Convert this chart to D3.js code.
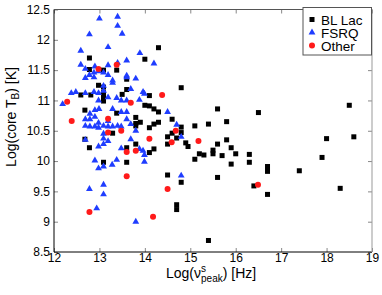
<!DOCTYPE html>
<html><head><meta charset="utf-8">
<script src="https://cdn.jsdelivr.net/npm/d3@7"></script>
<style>body{margin:0;background:#fff}svg{display:block}text{font-family:"Liberation Sans",Arial,sans-serif}</style>
</head><body>
<svg id="c" width="382" height="295"></svg>
<script>
const xTicks = [12,13,14,15,16,17,18,19];
const yTicks = [8.5,9,9.5,10,10.5,11,11.5,12,12.5];
const seriesNames = ["BL Lac","FSRQ","Other"];
const blLac = [[12.78,11.70],[12.78,11.51],[12.59,11.09],[12.81,11.09],[12.68,10.84],[12.68,10.36],[12.78,10.22],[12.98,11.25],[13.09,11.50],[13.09,11.22],[13.09,11.13],[13.09,11.06],[13.09,10.99],[13.09,9.98],[13.38,11.50],[13.38,10.79],[13.29,10.46],[13.6,11.35],[13.6,11.18],[13.5,11.10],[13.6,10.22],[13.6,9.98],[13.8,10.72],[13.8,10.62],[13.8,10.58],[13.8,10.28],[13.9,10.64],[14.0,11.68],[14.0,10.92],[14.1,11.08],[14.1,10.91],[14.1,10.55],[14.1,10.14],[14.2,10.86],[14.2,10.61],[14.2,10.20],[14.3,11.87],[14.3,10.81],[14.3,10.64],[14.5,10.40],[14.5,10.28],[14.5,9.77],[14.6,10.69],[14.6,10.46],[14.7,10.38],[14.7,9.28],[14.7,9.20],[14.8,11.21],[14.8,10.56],[14.8,10.47],[14.8,9.65],[14.9,10.30],[14.95,10.24],[15.1,10.58],[15.1,10.03],[15.2,10.12],[15.3,10.10],[15.4,10.61],[15.4,8.69],[15.5,10.18],[15.5,10.12],[15.6,10.86],[15.6,10.28],[15.6,9.73],[15.7,10.09],[15.8,10.65],[15.8,10.35],[15.9,10.22],[15.9,9.95],[16.0,10.12],[16.3,10.11],[16.3,9.98],[16.4,9.59],[16.5,10.80],[16.7,9.91],[16.7,9.83],[16.7,9.45],[17.4,9.84],[17.9,10.06],[18.0,10.37],[18.3,9.55],[18.5,10.92],[18.6,10.40]];
const fsrq = [[13.0,12.35],[13.4,12.38],[13.4,12.23],[13.5,12.10],[12.78,12.09],[13.19,11.88],[12.59,11.82],[13.89,11.78],[14.2,11.61],[13.6,11.66],[13.4,11.62],[12.59,11.59],[12.69,11.52],[12.9,11.56],[13.19,11.58],[12.98,11.48],[12.88,11.46],[12.78,11.42],[13.09,11.46],[13.19,11.42],[13.29,11.33],[13.29,11.29],[13.6,11.41],[13.6,11.38],[13.8,11.36],[12.69,11.37],[12.88,11.38],[12.38,11.12],[12.48,11.14],[12.19,10.94],[12.69,11.12],[12.88,11.14],[12.98,11.12],[13.09,11.16],[13.09,11.24],[13.19,11.05],[13.69,11.19],[13.38,11.04],[13.48,11.0],[13.6,11.0],[13.96,11.14],[13.99,11.11],[13.88,11.01],[12.98,11.0],[12.99,10.86],[12.9,10.84],[12.69,10.69],[12.69,10.58],[12.79,10.78],[12.79,10.69],[12.79,10.57],[12.9,10.73],[12.9,10.57],[12.98,10.63],[12.98,10.55],[13.09,10.58],[13.09,10.45],[13.09,10.37],[13.19,10.57],[13.19,10.66],[13.29,10.57],[13.29,10.86],[13.4,10.58],[13.48,10.81],[13.6,10.81],[13.48,10.57],[13.6,10.69],[13.69,10.61],[13.69,10.36],[13.8,10.50],[12.69,10.35],[12.98,10.24],[13.09,10.28],[13.19,10.33],[13.48,10.21],[13.88,10.20],[13.96,10.17],[13.99,10.10],[13.99,9.99],[13.38,10.02],[13.28,9.94],[13.09,9.91],[12.98,9.88],[12.9,10.01],[13.09,9.61],[13.09,9.45],[12.78,9.54],[12.94,9.22],[13.8,9.0],[14.5,10.81],[14.7,10.60],[14.8,10.40],[14.8,9.76]];
const other = [[12.29,10.98],[12.39,10.66],[12.98,11.52],[13.38,11.59],[13.69,10.96],[13.19,10.70],[13.19,10.47],[13.48,10.50],[13.6,10.15],[13.8,10.17],[13.6,9.75],[12.78,9.16],[14.18,9.08],[14.38,11.09],[14.1,10.37],[14.59,10.31],[14.68,10.50],[14.5,9.54],[15.18,10.33],[16.49,9.61]];

const svg = d3.select("#c");
const L=54, R=372, T=9.5, B=252;
const x = d3.scaleLinear().domain([12,19]).range([L,R]);
const y = d3.scaleLinear().domain([8.5,12.5]).range([B,T]);
const blue="#1f3dff", red="#ff1a1a";

// axes
const tl=4;
const gB = svg.append("g").attr("transform",`translate(0,${B})`)
  .call(d3.axisBottom(x).tickValues(xTicks).tickFormat(d3.format("d")).tickSizeInner(-tl).tickSizeOuter(0).tickPadding(1));
const gT = svg.append("g").attr("transform",`translate(0,${T})`)
  .call(d3.axisTop(x).tickValues(xTicks).tickFormat("").tickSizeInner(-tl).tickSizeOuter(0));
const gL = svg.append("g").attr("transform",`translate(${L},0)`)
  .call(d3.axisLeft(y).tickValues(yTicks).tickFormat(d=>String(d)).tickSizeInner(-tl).tickSizeOuter(0).tickPadding(4));
const gR = svg.append("g").attr("transform",`translate(${R},0)`)
  .call(d3.axisRight(y).tickValues(yTicks).tickFormat("").tickSizeInner(-tl).tickSizeOuter(0));
[gB,gT,gL,gR].forEach(g=>{
  g.select(".domain").remove();
  g.selectAll(".tick line").attr("stroke","#888");
  g.selectAll("text").attr("font-size",12).attr("fill","#000").attr("font-family","Liberation Sans, Arial, sans-serif");
});
svg.append("line").attr("x1",L).attr("x2",L).attr("y1",T).attr("y2",B).attr("stroke","#000");
svg.append("line").attr("x1",L).attr("x2",R).attr("y1",B).attr("y2",B).attr("stroke","#000");
svg.append("line").attr("x1",L).attr("x2",R).attr("y1",T).attr("y2",T).attr("stroke","#555");
svg.append("line").attr("x1",R).attr("x2",R).attr("y1",T).attr("y2",B).attr("stroke","#999");

// points
const sq=5;
svg.append("g").selectAll("rect").data(blLac).join("rect")
  .attr("x",d=>x(d[0])-sq/2).attr("y",d=>y(d[1])-sq/2).attr("width",sq).attr("height",sq).attr("fill","#000");
const tri = d3.symbol().type(d3.symbolTriangle).size(20);
svg.append("g").selectAll("path").data(fsrq).join("path")
  .attr("d",tri).attr("transform",d=>`translate(${x(d[0])},${y(d[1])})`).attr("fill",blue);
svg.append("g").selectAll("circle").data(other).join("circle")
  .attr("cx",d=>x(d[0])).attr("cy",d=>y(d[1])).attr("r",3).attr("fill",red);

// legend
const lg = svg.append("g");
lg.append("rect").attr("x",303).attr("y",7.5).attr("width",68.5).attr("height",47.5).attr("fill","#fff").attr("stroke","#555");
const rows=[19.5,32.5,45.5];
lg.append("rect").attr("x",312-sq/2).attr("y",rows[0]-sq/2).attr("width",sq).attr("height",sq).attr("fill","#000");
lg.append("path").attr("d",tri).attr("transform",`translate(312,${rows[1]})`).attr("fill",blue);
lg.append("circle").attr("cx",312).attr("cy",rows[2]).attr("r",3).attr("fill",red);
seriesNames.forEach((n,i)=>lg.append("text").attr("x",321).attr("y",rows[i]+5).attr("font-size",13.5).text(n));

// x label
const xl = svg.append("text").attr("x",166).attr("y",278).attr("font-size",14);
xl.append("tspan").text("Log(\u03bd");
const xs = xl.append("tspan").attr("font-size",10).attr("dy",-6).text("s");
const sw = xs.node().getComputedTextLength();
xl.append("tspan").attr("font-size",10).attr("dx",-sw).attr("dy",10).text("peak");
xl.append("tspan").attr("dy",-4).text(") [Hz]");
// y label
const yl = svg.append("text").attr("transform","translate(16,117) rotate(-90)").attr("text-anchor","middle").attr("font-size",14);
yl.append("tspan").text("Log(core T");
yl.append("tspan").attr("font-size",10).attr("dy",3).text("B");
yl.append("tspan").attr("dy",-3).text(") [K]");
</script>
</body></html>
